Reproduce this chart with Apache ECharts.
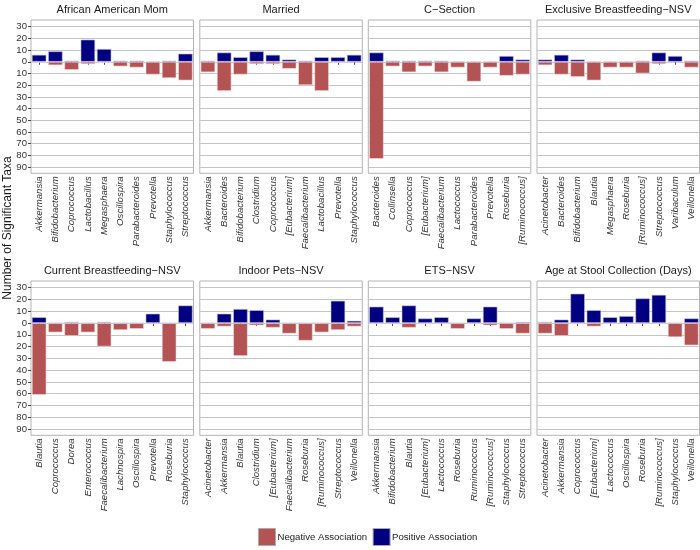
<!DOCTYPE html>
<html>
<head>
<meta charset="utf-8">
<script src="https://cdn.jsdelivr.net/npm/echarts@6/dist/echarts.min.js"></script>
<style>html,body{margin:0;padding:0;background:#fff}#c{width:700px;height:550px}</style>
</head>
<body>
<div id="c"></div>
<script>
// ---- data ----
const panelTitles = ['African American Mom','Married','C\u2212Section','Exclusive Breastfeeding\u2212NSV',
  'Current Breastfeeding\u2212NSV','Indoor Pets\u2212NSV','ETS\u2212NSV','Age at Stool Collection (Days)'];

const catsAAM = ['Akkermansia','Bifidobacterium','Coprococcus','Lactobacillus','Megasphaera','Oscillospira','Parabacteroides','Prevotella','Staphylococcus','Streptococcus'];
const posAAM = [6,9,1,19,11,1,1,0,1,7];
const negAAM = [1,3,7,2,1,4,5,11,14,16];

const catsMarried = ['Akkermansia','Bacteroides','Bifidobacterium','Clostridium','Coprococcus','[Eubacterium]','Faecalibacterium','Lactobacillus','Prevotella','Staphylococcus'];
const posMarried = [1,8,4,9,6,2,1,4,4,6];
const negMarried = [9,25,11,2,2,6,20,25,1,0];

const catsCSection = ['Bacteroides','Collinsella','Coprococcus','[Eubacterium]','Faecalibacterium','Lactococcus','Parabacteroides','Prevotella','Roseburia','[Ruminococcus]'];
const posCSection = [8,1,1,1,1,0,0,0,5,2];
const negCSection = [83,4,9,4,9,5,17,5,12,11];

const catsEBF = ['Acinetobacter','Bacteroides','Bifidobacterium','Blautia','Megasphaera','Roseburia','[Ruminococcus]','Streptococcus','Varibaculum','Veillonella'];
const posEBF = [2,6,2,0,0,0,1,8,5,1];
const negEBF = [3,11,13,16,5,5,10,2,0,5];

const catsCBF = ['Blautia','Coprococcus','Dorea','Enterococcus','Faecalibacterium','Lachnospira','Oscillospira','Prevotella','Roseburia','Staphylococcus'];
const posCBF = [5,0,1,0,1,0,0,8,0,15];
const negCBF = [61,8,11,8,20,6,5,1,33,0];

const catsPets = ['Acinetobacter','Akkermansia','Blautia','Clostridium','[Eubacterium]','Faecalibacterium','Roseburia','[Ruminococcus]','Streptococcus','Veillonella'];
const posPets = [0,8,12,11,3,0,0,0,19,2];
const negPets = [5,3,28,2,4,9,15,8,6,3];

const catsETS = ['Akkermansia','Bifidobacterium','Blautia','[Eubacterium]','Lactococcus','Roseburia','Ruminococcus','[Ruminococcus]','Staphylococcus','Streptococcus'];
const posETS = [14,5,15,4,5,0,4,14,0,1];
const negETS = [1,1,4,1,0,5,1,2,5,9];

const catsAge = ['Acinetobacter','Akkermansia','Coprococcus','[Eubacterium]','Lactococcus','Oscillospira','Roseburia','[Ruminococcus]','Staphylococcus','Veillonella'];
const posAge = [1,3,25,11,5,6,21,24,0,4];
const negAge = [9,11,1,3,0,1,1,1,12,19];

const yTicks = [30,20,10,0,-10,-20,-30,-40,-50,-60,-70,-80,-90];

const panelCats = [catsAAM,catsMarried,catsCSection,catsEBF,catsCBF,catsPets,catsETS,catsAge];
const panelPos = [posAAM,posMarried,posCSection,posEBF,posCBF,posPets,posETS,posAge];
const panelNeg = [negAAM,negMarried,negCSection,negEBF,negCBF,negPets,negETS,negAge];

// ---- layout ----
const FONT = 'Liberation Sans, Arial, sans-serif';
const lefts = [31, 199.8, 368.3, 537];
const panelW = 162.5;
const tops = [20, 281];
const heights = [153.3, 154.3];
const RED = '#b45353', NAVY = '#000080';

const grids = [], xAxes = [], yAxes = [], series = [], titles = [];
for (let i = 0; i < 8; i++) {
  const r = Math.floor(i / 4), c = i % 4;
  grids.push({left: lefts[c], top: tops[r], width: panelW, height: heights[r],
    show: true, borderColor: '#b3b3b3', borderWidth: 1, backgroundColor: 'transparent', containLabel: false});
  xAxes.push({type: 'category', gridIndex: i, data: panelCats[i],
    axisLine: {show: false},
    axisTick: {show: true, alignWithLabel: true, length: 3, lineStyle: {color: '#444'}},
    axisLabel: {rotate: 90, interval: 0, fontStyle: 'italic', fontSize: 9.6, color: '#333',
      fontFamily: FONT, margin: 3},
    splitLine: {show: false}});
  yAxes.push({type: 'value', gridIndex: i, min: -95.3, max: 35.7,
    axisLine: {show: false},
    axisTick: {show: c === 0, length: 3, lineStyle: {color: '#444'}, customValues: yTicks},
    axisLabel: {show: c === 0, customValues: yTicks, fontSize: 9.6, color: '#333', margin: 4,
      fontFamily: FONT, formatter: v => String(Math.abs(v))},
    splitLine: {show: true, lineStyle: {color: '#c4c4c4', width: 1.2}}});
  series.push({name: 'Negative Association', type: 'bar', xAxisIndex: i, yAxisIndex: i,
    data: panelNeg[i].map(v => -v), barWidth: '90%', barGap: '-100%',
    itemStyle: {color: RED, borderColor: 'rgba(255,225,225,0.7)', borderWidth: 0.8}, silent: true});
  series.push({name: 'Positive Association', type: 'bar', xAxisIndex: i, yAxisIndex: i,
    data: panelPos[i], barWidth: '90%', barGap: '-100%',
    itemStyle: {color: NAVY, borderColor: 'rgba(200,200,235,0.7)', borderWidth: 0.8}, silent: true});
  titles.push({text: panelTitles[i], left: lefts[c] + panelW / 2, top: r === 0 ? 4 : 265,
    textAlign: 'center', padding: 0,
    textStyle: {fontSize: 11, fontWeight: 'normal', color: '#1a1a1a', fontFamily: FONT}});
}

const chart = echarts.init(document.getElementById('c'), null, {renderer: 'canvas'});
chart.setOption({
  animation: false,
  backgroundColor: '#fff',
  title: titles,
  grid: grids,
  xAxis: xAxes,
  yAxis: yAxes,
  series: series,
  legend: {
    data: ['Negative Association', 'Positive Association'],
    top: 528, left: 258, padding: 0, icon: 'rect', itemWidth: 17, itemHeight: 17, itemGap: 5.5,
    itemStyle: {borderColor: '#aaa', borderWidth: 1},
    textStyle: {fontSize: 9.6, color: '#1a1a1a', fontFamily: FONT, padding: [0,0,0,-3]}
  },
  graphic: [{type: 'text', x: 8, y: 228, rotation: Math.PI / 2,
    style: {text: 'Number of Significant Taxa', fontSize: 12, fill: '#1a1a1a',
      fontFamily: FONT, align: 'center', verticalAlign: 'middle'}}]
});
</script>
</body>
</html>
